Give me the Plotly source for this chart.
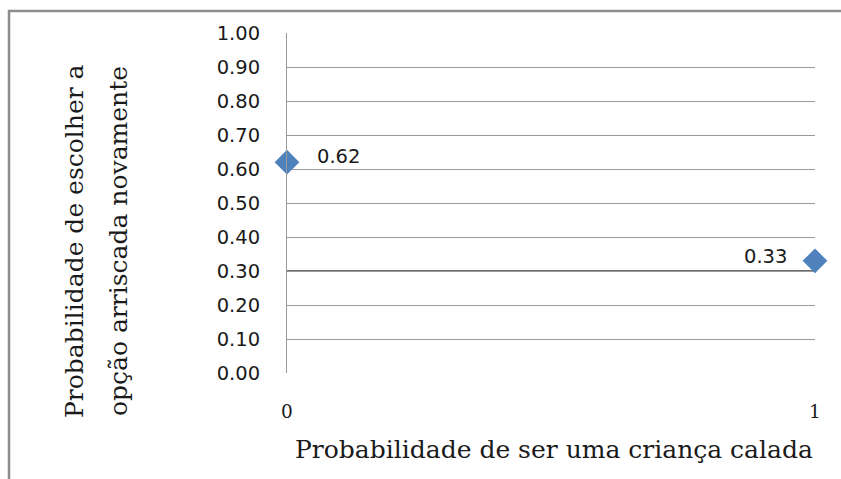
import plotly.graph_objects as go

# Scatter data: probability of being a quiet child vs. probability of choosing the risky option again
x_vals = [0, 1]
y_vals = [0.62, 0.33]
point_labels = ["0.62", "0.33"]
y_ticks = [0.0, 0.1, 0.2, 0.3, 0.4, 0.5, 0.6, 0.7, 0.8, 0.9, 1.0]
y_tick_text = [f"{v:.2f}" for v in y_ticks]
x_ticks = [0, 1]
x_tick_text = ["0", "1"]
cross_at = 0.30  # horizontal axis crosses the vertical axis here

x_title = "Probabilidade de ser uma criança calada"
y_title_lines = ["Probabilidade de escolher a", "opção arriscada novamente"]

W, H = 841, 479
L, R, T, B = 287, 26, 33, 106
pw, ph = W - L - R, H - T - B

def px_x(p):
    return (p - L) / pw

def px_y(p):
    return (H - B - p) / ph

SANS = "DejaVu Sans"
SERIF = "DejaVu Serif"

fig = go.Figure()
fig.add_trace(go.Scatter(
    x=x_vals, y=y_vals, mode="markers",
    marker=dict(symbol="diamond", size=19, color="#4F81BD",
                line=dict(width=0)),
    cliponaxis=False, showlegend=False, hoverinfo="skip",
))

# value labels next to each point
fig.add_annotation(x=x_vals[0], y=y_vals[0], text=point_labels[0], showarrow=False,
                   xanchor="left", yanchor="middle", xshift=28, yshift=6,
                   font=dict(family=SANS, size=19.5, color="#1a1a1a"))
fig.add_annotation(x=x_vals[1], y=y_vals[1], text=point_labels[1], showarrow=False,
                   xanchor="right", yanchor="middle", xshift=-26, yshift=4,
                   font=dict(family=SANS, size=19.5, color="#1a1a1a"))

# darker horizontal axis line where the x axis crosses
fig.add_shape(type="line", xref="x", yref="y", x0=0, x1=1, y0=cross_at, y1=cross_at,
              line=dict(color="#6e6e6e", width=2), layer="below")

# outer chart border
fig.add_shape(type="rect", xref="paper", yref="paper",
              x0=px_x(9), x1=px_x(W + 20), y0=px_y(H + 20), y1=px_y(11),
              line=dict(color="#8c8c8c", width=2.5), fillcolor="rgba(0,0,0,0)")

# axis titles
fig.add_annotation(xref="paper", yref="paper", x=px_x(554), y=px_y(449),
                   text=x_title, showarrow=False, xanchor="center", yanchor="middle",
                   font=dict(family=SERIF, size=25, color="#1a1a1a"))
for cx, line in zip([74, 118], y_title_lines):
    fig.add_annotation(xref="paper", yref="paper", x=px_x(cx), y=px_y(241),
                       text=line, showarrow=False, textangle=-90,
                       xanchor="center", yanchor="middle",
                       font=dict(family=SERIF, size=25, color="#1a1a1a"))

fig.update_layout(
    width=W, height=H,
    margin=dict(l=L, r=R, t=T, b=B),
    paper_bgcolor="white", plot_bgcolor="white",
    xaxis=dict(range=[0, 1], tickvals=x_ticks, ticktext=x_tick_text,
               showgrid=False, zeroline=False, showline=False, ticks="",
               ticklabelstandoff=25,
               tickfont=dict(family=SERIF, size=18.5, color="#1a1a1a")),
    yaxis=dict(range=[0, 1], tickvals=y_ticks, ticktext=y_tick_text,
               showgrid=True, gridcolor="#9a9a9a", gridwidth=1,
               zeroline=False, showline=True, linecolor="#9a9a9a", linewidth=1,
               ticks="", ticklabelstandoff=22,
               tickfont=dict(family=SANS, size=19.5, color="#1a1a1a")),
)

fig.write_html("out.html")
